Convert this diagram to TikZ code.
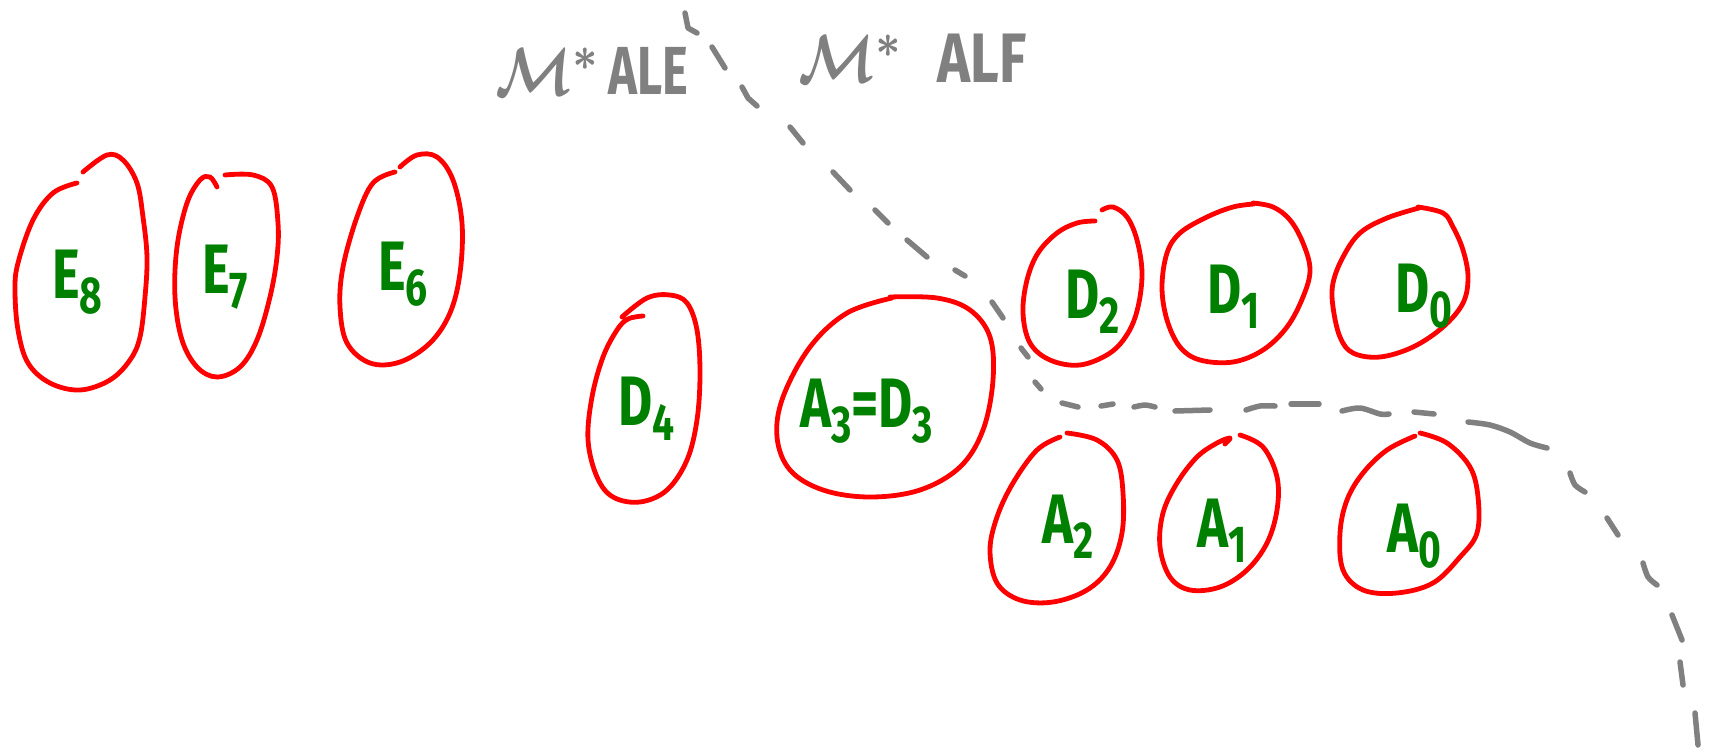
\documentclass[tikz,border=0pt]{standalone}
\usepackage{fontspec}
\setsansfont{Fira Sans}
\usepackage{graphicx}
\tikzset{
  oval/.style={draw=red, line width=4.8pt, line cap=round, line join=round},
  dashseg/.style={draw=gray, line width=5.5pt, line cap=round, line join=round},
  lbl/.style={text=green!50!black, inner sep=0pt, anchor=base west, font=\sffamily\bfseries},
  glbl/.style={text=gray, inner sep=0pt, anchor=base west, font=\sffamily\bfseries},
}
\newcommand{\grp}[2]{\scalebox{0.75}[1]{\fontsize{70}{70}\selectfont #1\raisebox{-15pt}{\fontsize{52}{52}\selectfont #2}}}
\newcommand{\subd}[1]{\raisebox{-15pt}{\fontsize{52}{52}\selectfont #1}}
\newcommand{\bigM}{{\normalsize\boldmath\scalebox{5.6}[6.8]{$\mathcal{M}^{*}$}}}
\begin{document}
\begin{tikzpicture}[x=1pt,y=-1pt]
\useasboundingbox (0,0) rectangle (1710,752);

% ovals
\draw[oval] plot[smooth, tension=0.6] coordinates {(83,172) (107,155) (123,160) (137,183) (143,217) (147,257) (145,297) (140,337) (130,360) (110,380) (80,390) (50,383) (28,363) (18,330) (15,290) (18,263) (33,220) (53,193) (77,183)};
\draw[oval] plot[smooth, tension=0.6] coordinates {(225,175) (253,175) (272,187) (278,223) (277,257) (270,297) (257,340) (240,367) (217,377) (197,367) (182,340) (175,297) (177,247) (187,203) (200,180) (210,177) (217,187)};
\draw[oval] plot[smooth, tension=0.6] coordinates {(400,167) (417,155) (437,157) (453,180) (462,223) (460,273) (450,313) (430,343) (400,362) (370,363) (347,343) (340,307) (343,267) (357,217) (373,183) (395,172)};
\draw[oval] plot[smooth, tension=0.6] coordinates {(622,317) (647,298) (670,295) (687,303) (697,330) (700,373) (697,420) (687,460) (667,490) (640,502) (613,497) (597,477) (588,440) (592,397) (603,357) (617,330) (628,319) (643,316)};
\draw[oval] plot[smooth, tension=0.6] coordinates {(890,297) (937,298) (970,310) (990,337) (993,380) (983,430) (960,467) (920,490) (870,497) (823,490) (790,470) (777,437) (783,397) (810,347) (847,313) (892,298)};
\draw[oval] plot[smooth, tension=0.6] coordinates {(1102,210) (1113,207) (1127,217) (1137,240) (1142,273) (1138,307) (1128,333) (1110,353) (1080,365) (1050,360) (1030,343) (1023,313) (1027,280) (1038,253) (1057,233) (1077,223) (1095,221)};
\draw[oval] plot[smooth, tension=0.6] coordinates {(1253,203) (1273,207) (1290,220) (1303,243) (1310,270) (1303,297) (1287,327) (1263,350) (1233,362) (1200,360) (1180,347) (1167,320) (1162,287) (1167,253) (1180,233) (1207,217) (1233,207) (1254,204)};
\draw[oval] plot[smooth, tension=0.6] coordinates {(1418,207) (1443,213) (1453,227) (1463,250) (1468,277) (1463,303) (1443,327) (1413,347) (1380,357) (1353,353) (1340,337) (1333,307) (1333,283) (1343,257) (1360,233) (1387,218) (1419,208)};
\draw[oval] plot[smooth, tension=0.6] coordinates {(1067,433) (1097,440) (1117,460) (1123,493) (1122,533) (1110,567) (1087,590) (1053,602) (1020,600) (997,583) (990,550) (997,517) (1013,483) (1037,450) (1060,437)};
\draw[oval] plot[smooth, tension=0.6] coordinates {(1240,435) (1263,447) (1277,477) (1277,510) (1267,543) (1247,570) (1220,587) (1190,590) (1170,577) (1160,547) (1163,513) (1177,483) (1197,457) (1217,443) (1230,438) (1225,444)};
\draw[oval] plot[smooth, tension=0.6] coordinates {(1420,433) (1447,443) (1470,467) (1478,497) (1477,533) (1460,557) (1433,583) (1397,593) (1363,590) (1343,570) (1340,533) (1347,500) (1363,473) (1387,450) (1415,436)};

% dashed boundary curve
\draw[dashseg] (685,13) -- (688,28) -- (697,33);
\draw[dashseg] (712,47) -- (725,68);
\draw[dashseg] (742,87) -- (748,98) -- (757,106);
\draw[dashseg] (790,127) -- (803,143);
\draw[dashseg] (833,172) -- (850,190);
\draw[dashseg] (875,210) -- (888,223);
\draw[dashseg] (907,240) -- (927,257);
\draw[dashseg] (955,270) -- (965,276);
\draw[dashseg] (992,302) -- (1003,318);
\draw[dashseg] (1021,348) -- (1028,357);
\draw[dashseg] (1035,382) -- (1041,389);
\draw[dashseg] (1062,403) -- (1078,407);
\draw[dashseg] (1101,406) -- (1113,404);
\draw[dashseg] plot[smooth] coordinates {(1134,407) (1145,405) (1155,407)};
\draw[dashseg] (1175,411) -- (1210,410);
\draw[dashseg] plot[smooth] coordinates {(1246,410) (1260,406) (1275,406)};
\draw[dashseg] (1291,404) -- (1319,404);
\draw[dashseg] plot[smooth] coordinates {(1342,411) (1360,408) (1380,414) (1389,414)};
\draw[dashseg] (1414,412) -- (1434,414);
\draw[dashseg] plot[smooth] coordinates {(1468,422) (1490,425) (1510,432) (1530,443) (1547,448)};
\draw[dashseg] plot[smooth] coordinates {(1570,473) (1575,485) (1585,492)};
\draw[dashseg] (1607,518) -- (1618,535);
\draw[dashseg] plot[smooth] coordinates {(1643,563) (1648,577) (1657,585)};
\draw[dashseg] (1672,615) -- (1682,640);
\draw[dashseg] (1680,662) -- (1683,685);
\draw[dashseg] (1695,713) -- (1698,745);

% gray labels
\node[glbl] (ale) at (495,95) {\bigM\hspace{8pt}\scalebox{0.72}[1]{\fontsize{68}{68}\selectfont ALE}};
\node[glbl] (alf) at (798,82) {\bigM\hspace{34pt}\scalebox{0.8}[1]{\fontsize{70}{70}\selectfont ALF}};

% green labels
\node[lbl] (e8) at (52,298) {\grp{E}{8}};
\node[lbl] (e7) at (202,293) {\grp{E}{7}};
\node[lbl] (e6) at (378,290) {\grp{E}{6}};
\node[lbl] (d4) at (618,425) {\grp{D}{4}};
\node[lbl] (a3d3) at (800,427) {\scalebox{0.75}[1]{\fontsize{70}{70}\selectfont A\subd{3}=D\subd{3}}};
\node[lbl] (d2) at (1065,318) {\grp{D}{2}};
\node[lbl] (d1) at (1207,313) {\grp{D}{1}};
\node[lbl] (d0) at (1395,312) {\grp{D}{0}};
\node[lbl] (a2) at (1042,543) {\grp{A}{2}};
\node[lbl] (a1) at (1197,547) {\grp{A}{1}};
\node[lbl] (a0) at (1387,552) {\grp{A}{0}};
\end{tikzpicture}
\end{document}
